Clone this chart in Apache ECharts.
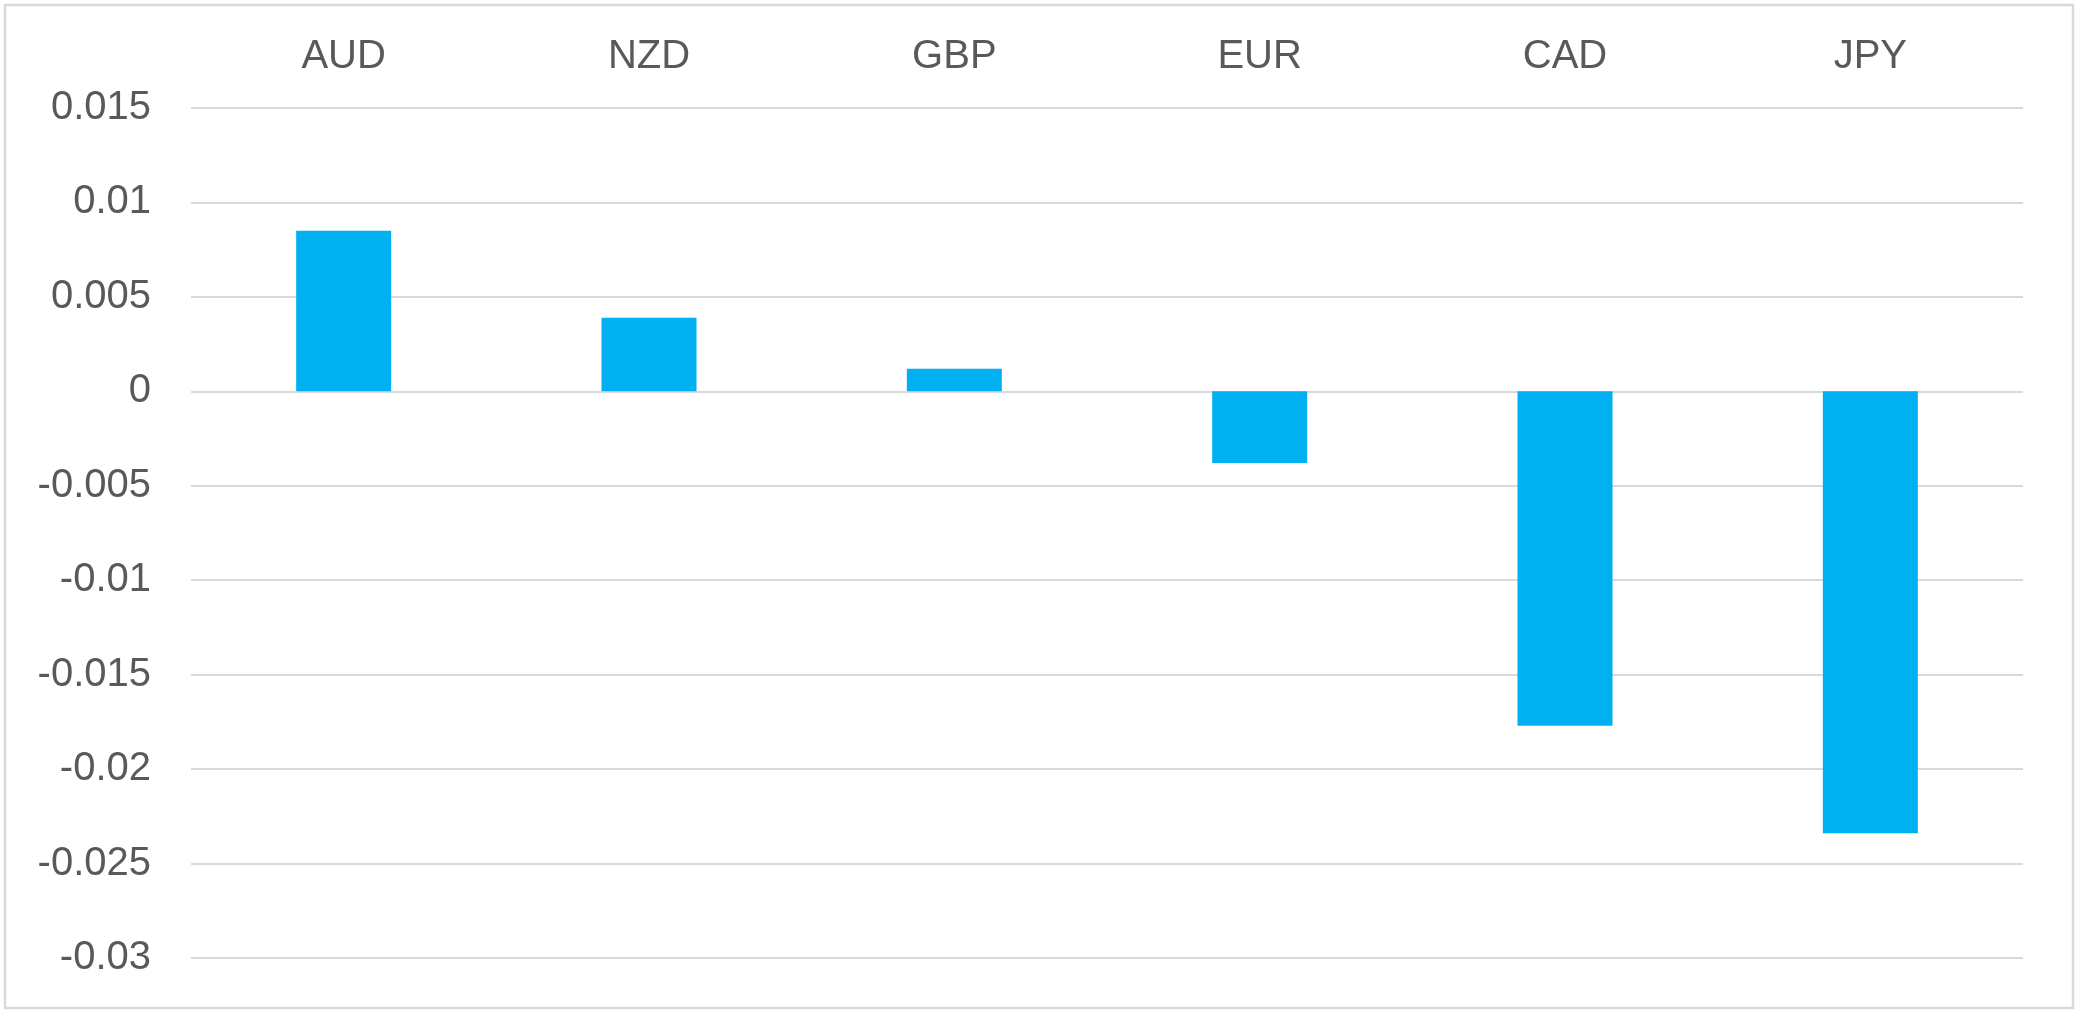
<!DOCTYPE html>
<html>
<head>
<meta charset="utf-8">
<script src="https://cdn.jsdelivr.net/npm/echarts@6/dist/echarts.min.js"></script>
<style>
html,body{margin:0;padding:0;background:#fff;}
#chart{width:2080px;height:1017px;}
</style>
</head>
<body>
<div id="chart"></div>
<script>
const categories = ['AUD', 'NZD', 'GBP', 'EUR', 'CAD', 'JPY'];
const values = [0.0085, 0.0039, 0.0012, -0.0038, -0.0177, -0.0234];
const yMin = -0.03;
const yMax = 0.015;
const yStep = 0.005;

const chart = echarts.init(document.getElementById('chart'), null, {renderer: 'canvas'});
const font = '"Liberation Sans", Arial, Helvetica, sans-serif';
chart.setOption({
  backgroundColor: '#ffffff',
  animation: false,
  graphic: [{
    type: 'rect',
    shape: {x: 5, y: 5, width: 2068, height: 1003},
    style: {fill: 'none', stroke: '#d9d9d9', lineWidth: 2.5},
    silent: true,
    z: -1
  }],
  grid: {left: 191, right: 57, top: 108, bottom: 59, containLabel: false},
  xAxis: {
    type: 'category',
    data: categories,
    position: 'top',
    axisLine: {show: false},
    axisTick: {show: false},
    axisLabel: {color: '#595959', fontSize: 40, fontFamily: font, margin: 31},
    splitLine: {show: false}
  },
  yAxis: {
    type: 'value',
    min: yMin,
    max: yMax,
    interval: yStep,
    axisLine: {show: false},
    axisTick: {show: false},
    axisLabel: {
      color: '#595959', fontSize: 40, fontFamily: font, margin: 40,
      padding: [8, 0, 0, 0],
      formatter: v => String(parseFloat(v.toFixed(3)))
    },
    splitLine: {lineStyle: {color: '#d9d9d9', width: 2}}
  },
  series: [{
    type: 'bar',
    data: values,
    barWidth: 95,
    itemStyle: {color: '#00b0f0'}
  }]
});
</script>
</body>
</html>
